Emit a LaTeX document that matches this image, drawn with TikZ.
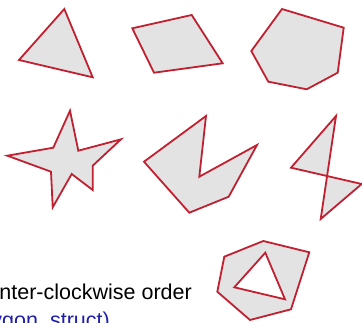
\documentclass[tikz,border=0pt]{standalone}
\usepackage{fontspec}
\setmainfont{Liberation Sans}
\definecolor{polyred}{RGB}{192,32,48}
\definecolor{polyfill}{RGB}{227,227,227}
\definecolor{codeblue}{RGB}{30,30,170}
\begin{document}
\begin{tikzpicture}[x=1pt,y=-1pt,
  poly/.style={draw=polyred,fill=polyfill,line width=1.8pt,line join=miter},
  lbl/.style={inner sep=0pt,anchor=base east,font=\fontsize{21.5}{26}\selectfont}]
\useasboundingbox (0,0) rectangle (362,323);
\clip (0,0) rectangle (362,323);
% triangle
\draw[poly] (64.3,9) -- (19,60) -- (92.7,77.3) -- cycle;
% quadrilateral
\draw[poly] (132.3,28.3) -- (154,72.7) -- (222.7,63.3) -- (191.7,15) -- cycle;
% hexagon
\draw[poly] (282,9) -- (343.7,27.7) -- (337.7,72.7) -- (306.7,89.3) -- (268.3,81.7) -- (251.3,51) -- cycle;
% star
\draw[poly] (70,110.7) -- (78.3,150.7) -- (121,139.3) -- (92.7,165.7) -- (92.7,190) -- (71.7,174) -- (52.7,207.3) -- (51,171.7) -- (7.3,155.7) -- (53.3,147.7) -- cycle;
% concave
\draw[poly] (206,116) -- (199.3,176.7) -- (257,145) -- (228.7,196.7) -- (189.3,212.7) -- (144,161.7) -- cycle;
% bowtie
\draw[poly] (336,116) -- (291,167.7) -- (361.7,184) -- (320.7,219) -- cycle;
% polygon with hole
\draw[poly,even odd rule] (263.3,241) -- (309.3,252.3) -- (291,309.3) -- (250,320) -- (217.3,291.7) -- (224.3,256.7) -- cycle
  (265.3,252.7) -- (234.3,287.3) -- (285,299.3) -- cycle;
% text
\node[lbl] (t1) at (192,300) {nter-clockwise order};
\node[lbl,text=codeblue] (t2) at (110,328) {ygon\_struct)};
\end{tikzpicture}
\end{document}
